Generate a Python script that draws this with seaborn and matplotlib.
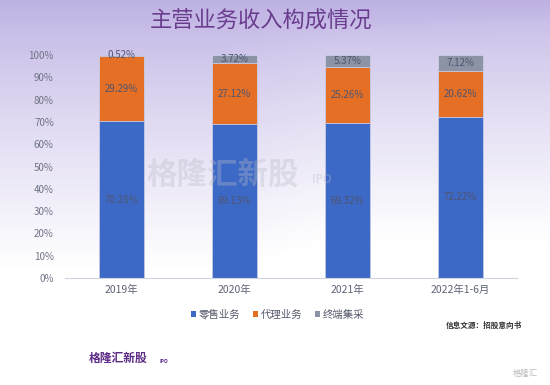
import numpy as np
import pandas as pd
import matplotlib as mpl
mpl.use("Agg")
import matplotlib.pyplot as plt
import seaborn as sns
from matplotlib.patches import Patch

sns.set_style("white")
plt.rcParams['font.family'] = ['Noto Sans CJK SC', 'DejaVu Sans']

years = ["2019年", "2020年", "2021年", "2022年1-6月"]
retail = [70.28, 69.13, 69.32, 72.22]      # 零售业务
agency = [29.29, 27.12, 25.26, 20.62]      # 代理业务
terminal = [0.52, 3.72, 5.37, 7.12]        # 终端集采
series_names = ["零售业务", "代理业务", "终端集采"]
colors = ["#3D69C6", "#E46F25", "#8C93A5"]

df = pd.DataFrame({"year": years, "retail": retail, "agency": agency, "terminal": terminal})
df["c1"] = df["retail"]
df["c2"] = df["retail"] + df["agency"]
df["c3"] = df["c2"] + df["terminal"]

fig = plt.figure(figsize=(5.5, 3.85), dpi=100)

# purple gradient background, with a softer lighter band top-right
bg = fig.add_axes([0, 0, 1, 1], zorder=-10)
yy, xx = np.mgrid[0:1:300j, 0:1:400j]
top = np.array([0.74, 0.69, 0.89])
white = np.array([1.0, 1.0, 1.0])
t = np.clip(yy / 0.7, 0, 1) ** 0.8
edge = yy - (0.14 - 0.1 * xx)
band = 1 / (1 + np.exp(-edge / 0.01)) * np.clip((xx - 0.4) / 0.2, 0, 1)
t = np.clip(t + 0.08 * band, 0, 1)
img = top[None, None, :] * (1 - t[..., None]) + white[None, None, :] * t[..., None]
bg.imshow(img, aspect="auto", extent=[0, 1, 0, 1], origin="upper")
bg.set_axis_off()

ax = fig.add_axes([0.118, 0.278, 0.822, 0.579])
ax.patch.set_alpha(0)

sns.barplot(data=df, x="year", y="c3", color=colors[2], width=0.4, ax=ax, saturation=1)
sns.barplot(data=df, x="year", y="c2", color=colors[1], width=0.4, ax=ax, saturation=1)
sns.barplot(data=df, x="year", y="c1", color=colors[0], width=0.4, ax=ax, saturation=1)
for p in ax.patches:
    p.set_edgecolor("#C9CEE8")
    p.set_linewidth(0.6)

lab_color = "#4F5570"
for i in range(len(years)):
    ax.text(i, retail[i] / 2, f"{retail[i]:.2f}%", ha="center", va="center",
            fontsize=7, color=lab_color)
    ax.text(i, retail[i] + agency[i] / 2, f"{agency[i]:.2f}%", ha="center", va="center",
            fontsize=7, color=lab_color)
    ty = df["c2"][i] + terminal[i] / 2
    if terminal[i] < 2:
        ty = df["c3"][i] - 0.2
    ax.text(i, ty, f"{terminal[i]:.2f}%", ha="center", va="center",
            fontsize=7, color=lab_color)

ax.set_ylim(0, 100)
ax.set_xlim(-0.5, 3.5)
ax.set_yticks(np.arange(0, 101, 10))
ax.set_yticklabels([f"{v}%" for v in range(0, 101, 10)])
ax.tick_params(axis="y", labelsize=7, colors="#6F7385", length=0, pad=8)
ax.tick_params(axis="x", labelsize=7.5, colors="#5F6375", length=0, pad=5)
ax.set_xlabel("")
ax.set_ylabel("")
for s in ["top", "right", "left"]:
    ax.spines[s].set_visible(False)
ax.spines["bottom"].set_color("#D0D3DE")
ax.spines["bottom"].set_linewidth(0.8)

# legend
handles = [Patch(facecolor=c, edgecolor="none") for c in colors]
fig.legend(handles, series_names, loc="center", bbox_to_anchor=(0.505, 0.183), ncol=3,
           frameon=False, fontsize=7.5, handlelength=0.45, handleheight=0.45,
           handletextpad=0.3, columnspacing=1.2, labelcolor="#555A6B")

fig.text(0.475, 0.945, "主营业务收入构成情况", ha="center", va="center",
         fontsize=16, color="#6A3C8E")
fig.text(0.88, 0.155, "信息文源：招股意向书", ha="center", va="center",
         fontsize=5.5, color="#333333", fontweight="bold")

# watermark and logo
fig.text(0.405, 0.545, "格隆汇新股", ha="center", va="center", fontsize=22,
         color="#B8BBC8", alpha=0.35, fontweight="bold")
fig.text(0.585, 0.535, "IPO", ha="center", va="center", fontsize=8,
         color="#B8BBC8", alpha=0.35, fontweight="bold", style="italic")
fig.text(0.215, 0.07, "格隆汇新股", ha="center", va="center", fontsize=8.5,
         color="#5B2A86", fontweight="bold")
fig.text(0.298, 0.062, "IPO", ha="center", va="center", fontsize=3.5,
         color="#5B2A86", fontweight="bold")
fig.text(0.955, 0.03, "格隆汇", ha="center", va="center", fontsize=6,
         color="#BBBBBB")

fig.savefig("out.png", dpi=100)
